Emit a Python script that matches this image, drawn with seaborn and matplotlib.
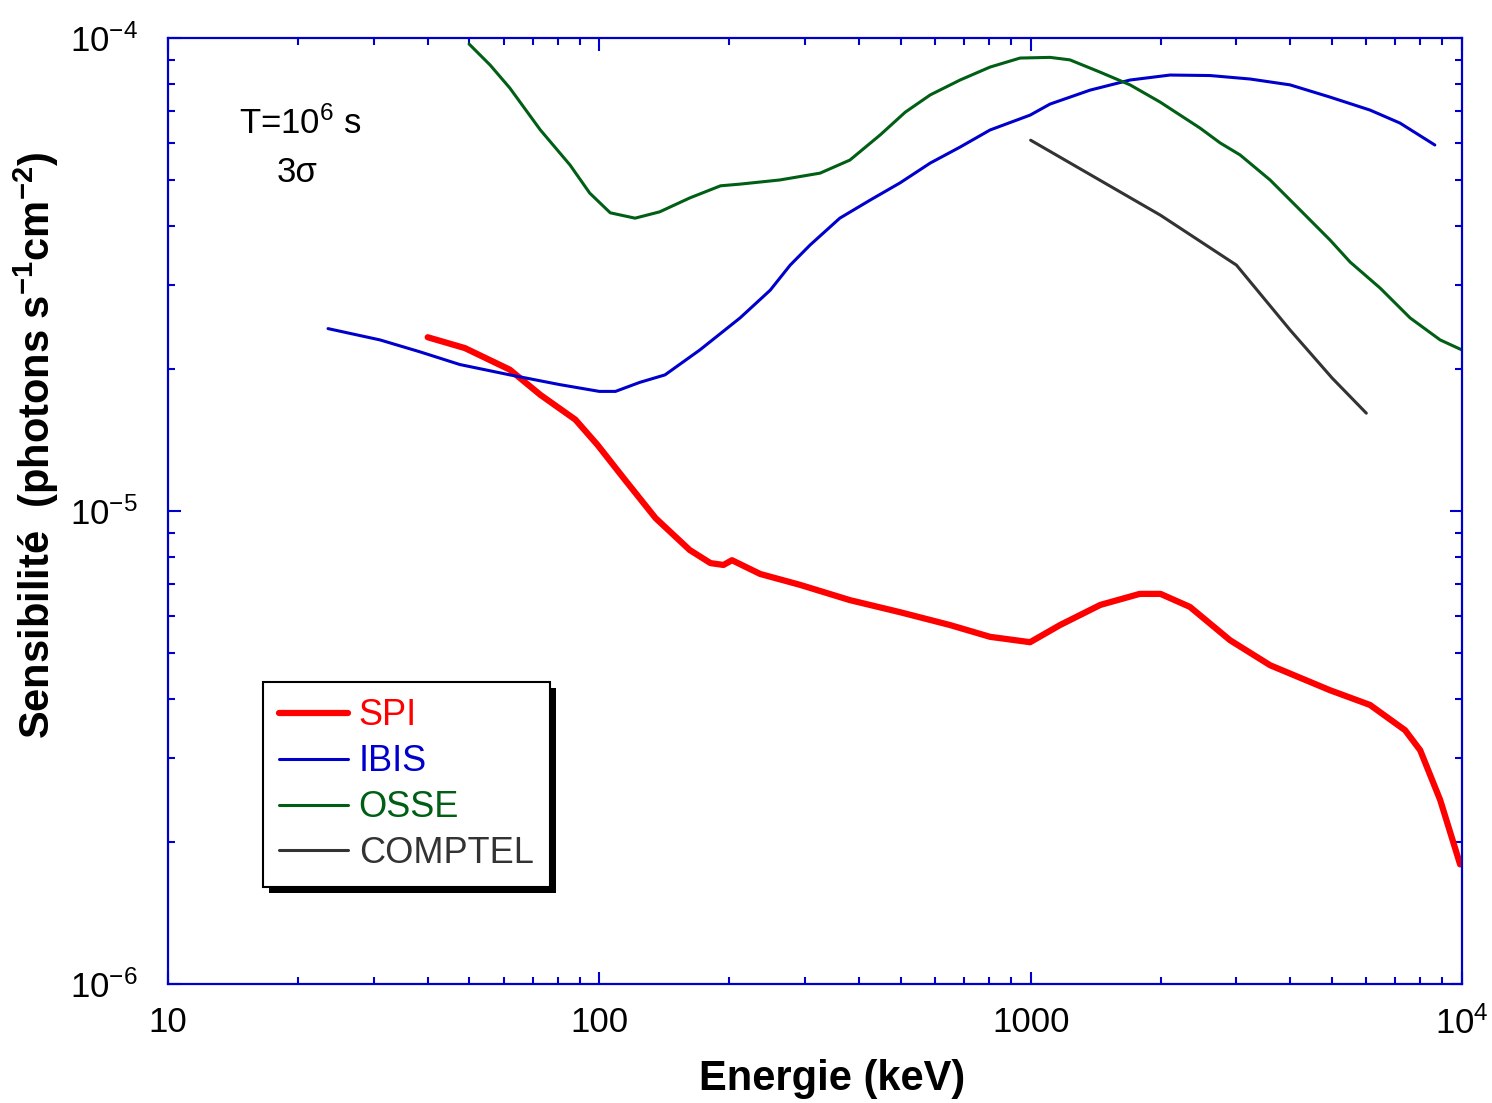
import numpy as np
import pandas as pd
import matplotlib
matplotlib.use("Agg")
import matplotlib.pyplot as plt
import seaborn as sns
from matplotlib.patches import Rectangle
from matplotlib.transforms import IdentityTransform
from matplotlib.ticker import LogLocator, FixedLocator, FixedFormatter, NullFormatter

# ---------------- data ----------------
spi_energy = [40, 48.8, 62, 73, 88, 99, 115, 135, 162, 181, 194, 203, 236, 292, 381, 498,
              650, 805, 997, 1170, 1450, 1790, 2000, 2340, 2900, 3590, 4940, 6120, 7380,
              8000, 8900, 9900]
spi_sens = [2.33e-5, 2.21e-5, 1.99e-5, 1.76e-5, 1.56e-5, 1.38e-5, 1.16e-5, 9.66e-6, 8.27e-6,
            7.76e-6, 7.69e-6, 7.87e-6, 7.36e-6, 6.98e-6, 6.48e-6, 6.11e-6, 5.74e-6, 5.42e-6,
            5.28e-6, 5.74e-6, 6.33e-6, 6.68e-6, 6.68e-6, 6.27e-6, 5.33e-6, 4.72e-6, 4.18e-6,
            3.89e-6, 3.44e-6, 3.12e-6, 2.45e-6, 1.79e-6]

ibis_energy = [23.5, 31, 38.4, 47.5, 62, 81, 100, 109, 124, 142, 171, 212, 249, 277, 308,
               361, 424, 498, 585, 686, 805, 997, 1109, 1374, 1700, 2104, 2605, 3227, 3993,
               4944, 6122, 7180, 8650]
ibis_sens = [2.43e-5, 2.30e-5, 2.17e-5, 2.04e-5, 1.94e-5, 1.85e-5, 1.79e-5, 1.79e-5, 1.87e-5,
             1.94e-5, 2.19e-5, 2.56e-5, 2.93e-5, 3.31e-5, 3.65e-5, 4.16e-5, 4.54e-5, 4.94e-5,
             5.44e-5, 5.88e-5, 6.39e-5, 6.87e-5, 7.25e-5, 7.76e-5, 8.15e-5, 8.35e-5, 8.33e-5,
             8.19e-5, 7.96e-5, 7.50e-5, 7.04e-5, 6.61e-5, 5.94e-5]

osse_energy = [49.9, 55.8, 62, 73, 85.5, 95, 106, 121, 138, 162, 191, 212, 262, 325, 381,
               448, 512, 585, 686, 805, 945, 1109, 1233, 1448, 1700, 1996, 2470, 2750, 3058,
               3590, 4213, 4944, 5503, 6460, 7580, 8898, 10000]
osse_sens = [9.71e-5, 8.77e-5, 7.84e-5, 6.39e-5, 5.39e-5, 4.70e-5, 4.27e-5, 4.16e-5, 4.29e-5,
             4.59e-5, 4.87e-5, 4.91e-5, 5.01e-5, 5.18e-5, 5.52e-5, 6.24e-5, 6.97e-5, 7.58e-5,
             8.15e-5, 8.68e-5, 9.07e-5, 9.10e-5, 8.99e-5, 8.47e-5, 7.96e-5, 7.32e-5, 6.45e-5,
             6.00e-5, 5.66e-5, 5.01e-5, 4.33e-5, 3.74e-5, 3.36e-5, 2.96e-5, 2.56e-5, 2.30e-5,
             2.19e-5]

comptel_energy = [1000, 2000, 3000, 4000, 5000, 6000]
comptel_sens = [6.08e-5, 4.22e-5, 3.31e-5, 2.41e-5, 1.91e-5, 1.61e-5]

x_tick_values = [10, 100, 1000, 10000]
x_tick_labels = ["10", "100", "1000", r"$\mathregular{10^{4}}$"]
y_tick_values = [1e-6, 1e-5, 1e-4]
y_tick_labels = [r"$\mathregular{10^{-6}}$", r"$\mathregular{10^{-5}}$", r"$\mathregular{10^{-4}}$"]

series_names = ["SPI", "IBIS", "OSSE", "COMPTEL"]

# ---------------- style ----------------
sns.set_style("white")
plt.rcParams["font.family"] = ["Liberation Sans", "DejaVu Sans"]
plt.rcParams["mathtext.fontset"] = "custom"
plt.rcParams["mathtext.rm"] = "Liberation Sans"
plt.rcParams["mathtext.it"] = "Liberation Sans:italic"
plt.rcParams["mathtext.bf"] = "Liberation Sans:bold"
plt.rcParams["mathtext.default"] = "regular"
plt.rcParams["text.color"] = "black"
plt.rcParams["axes.labelcolor"] = "black"

frame_blue = "#0000cc"
colors = {"SPI": "#ff0000", "IBIS": "#0000cc", "OSSE": "#005f14", "COMPTEL": "#333333"}
widths = {"SPI": 4.5, "IBIS": 2.2, "OSSE": 2.2, "COMPTEL": 2.2}

data = {
    "SPI": (spi_energy, spi_sens),
    "IBIS": (ibis_energy, ibis_sens),
    "OSSE": (osse_energy, osse_sens),
    "COMPTEL": (comptel_energy, comptel_sens),
}

fig = plt.figure(figsize=(14.92, 11.03), dpi=100)
ax = fig.add_axes([168 / 1492, 1 - 984 / 1103, (1462 - 168) / 1492, (984 - 38) / 1103])

for name in series_names:
    e, s = data[name]
    df = pd.DataFrame({"energy": e, "sens": s})
    sns.lineplot(data=df, x="energy", y="sens", ax=ax, color=colors[name],
                 linewidth=widths[name], label=name, sort=True)

ax.set_xscale("log")
ax.set_yscale("log")
ax.set_xlim(10, 1e4)
ax.set_ylim(1e-6, 1e-4)

ax.xaxis.set_major_locator(FixedLocator(x_tick_values))
ax.xaxis.set_major_formatter(FixedFormatter(x_tick_labels))
ax.yaxis.set_major_locator(FixedLocator(y_tick_values))
ax.yaxis.set_major_formatter(FixedFormatter(y_tick_labels))
ax.xaxis.set_minor_locator(LogLocator(base=10, subs=np.arange(2, 10), numticks=20))
ax.yaxis.set_minor_locator(LogLocator(base=10, subs=np.arange(2, 10), numticks=20))
ax.xaxis.set_minor_formatter(NullFormatter())
ax.yaxis.set_minor_formatter(NullFormatter())

ax.tick_params(which="both", direction="in", top=True, right=True, bottom=True, left=True,
               color=frame_blue, width=1.5, labelsize=25, labelcolor="black")
ax.tick_params(which="major", length=9)
ax.tick_params(which="minor", length=5)
ax.tick_params(axis="x", which="major", pad=16)
ax.tick_params(axis="y", which="major", pad=22)

for sp in ax.spines.values():
    sp.set_color(frame_blue)
    sp.set_linewidth(1.6)

ax.set_xlabel("Energie (keV)", fontsize=30, fontweight="bold")
ax.set_ylabel(r"Sensibilité  (photons s$^{-1}$cm$^{-2}$)", fontsize=30, fontweight="bold")
ax.xaxis.set_label_coords(0.513, -0.079)
ax.yaxis.set_label_coords(-0.083, 0.569)

ax.text(0.102, 0.910, r"T=10$^{6}$ s", transform=ax.transAxes, fontsize=25,
        ha="center", va="center")
ax.text(0.10, 0.858, "3σ", transform=ax.transAxes, fontsize=25,
        ha="center", va="center")

leg = ax.legend(loc="upper left", bbox_to_anchor=(0.0734, 0.319), borderaxespad=0,
                fontsize=26, frameon=True, fancybox=False, framealpha=1,
                edgecolor="black", shadow=False,
                labelcolor="linecolor", handlelength=1.9, handletextpad=0.3,
                labelspacing=0.3, borderpad=0.45)
leg.get_frame().set_linewidth(1.5)

# solid black drop shadow behind the legend box
fig.canvas.draw()
bb = leg.get_window_extent()
shadow = Rectangle((bb.x0 + 6, bb.y0 - 6), bb.width, bb.height, transform=IdentityTransform(),
                   facecolor="black", edgecolor="none", zorder=leg.get_zorder() - 0.1)
ax.add_artist(shadow)

fig.savefig("out.png", dpi=100)
